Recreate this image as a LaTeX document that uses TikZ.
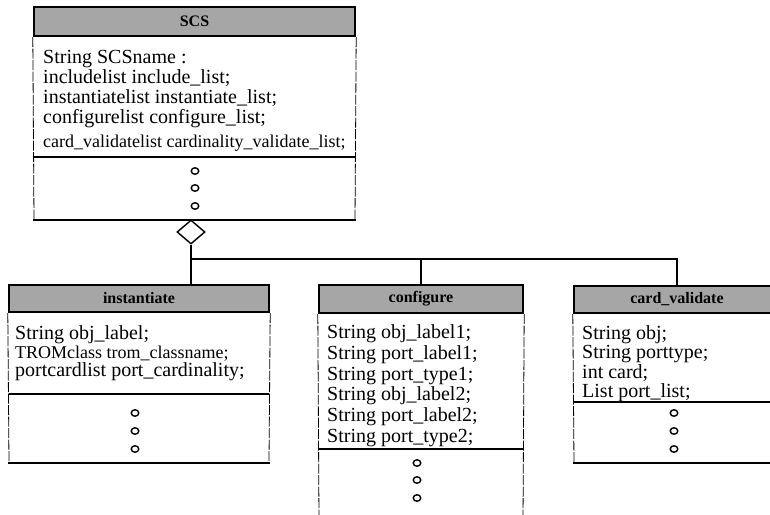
\documentclass[tikz,border=0pt]{standalone}
\usepackage{fontspec}
\setmainfont{Liberation Serif}
\usetikzlibrary{calc, shapes.geometric}

\begin{document}
\begin{tikzpicture}[x=1pt, y=-1pt,
    titleBar/.style={draw=borderColour, fill=fillColour, line width=2.4pt, inner sep=0pt, font=\fontsize{16}{16}\selectfont\bfseries},
    attrLine/.style={anchor=base west, inner sep=0pt, font=\fontsize{20}{20}\selectfont},
    smallLine/.style={attrLine, font=\fontsize{18}{18}\selectfont},
    dot/.style={draw=borderColour, line width=1.4pt, ellipse, minimum width=7.5pt, minimum height=6.5pt, inner sep=0pt},
    sepLine/.style={line width=1.4pt},
    sideLine/.style={line width=0.8pt, dash pattern=on 10pt off 1.5pt},
    link/.style={line width=1.2pt}]

    \definecolor{borderColour}{HTML}{000000}
    \definecolor{fillColour}{HTML}{A6A6A6}

    % Page size of the reference
    \useasboundingbox (0,0) rectangle (770,514);
    \clip (0,0) rectangle (770,514);

    % Draw the SCS class
    \node[titleBar, minimum width=321pt, minimum height=29pt] (scsTitle) at (194.5,21.5) {SCS};
    \draw[sideLine] (scsTitle.south west) -- (34,220) (scsTitle.south east) -- (355,220);
    \draw[sepLine] (34,157) -- (355,157) (33.3,220) -- (355.7,220);
    \foreach \txt [count=\i from 0] in {String SCSname :, includelist include\_list;,
        instantiatelist instantiate\_list;, configurelist configure\_list;}
        \node[attrLine] (scsAttr\i) at (43,63.5+20*\i) {\txt};
    \node[smallLine] (scsAttr4) at (43,147) {card\_validatelist cardinality\_validate\_list;};
    \foreach \y [count=\i] in {171,188,206}
        \node[dot] (scsDot\i) at (195,\y) {};

    % Draw the aggregation diamond
    \node[diamond, draw=borderColour, line width=1.4pt, aspect=1.17, minimum width=28pt,
        minimum height=24pt, inner sep=0pt, fill=white] (agg) at (191,232) {};

    % Draw the instantiate class
    \node[titleBar, minimum width=260pt, minimum height=27pt] (instTitle) at (139,298.5) {instantiate};
    \draw[sideLine] (instTitle.south west) -- (9,463) (instTitle.south east) -- (269,463);
    \draw[sepLine] (9,394) -- (269,394) (8.3,463) -- (269.7,463);
    \node[attrLine] (instAttr1) at (15,339) {String obj\_label;};
    \node[smallLine] (instAttr2) at (15,358) {TROMclass trom\_classname;};
    \node[attrLine] (instAttr3) at (15,376) {portcardlist port\_cardinality;};
    \foreach \y [count=\i] in {413,431,449}
        \node[dot] (instDot\i) at (135,\y) {};

    % Draw the configure class
    \node[titleBar, minimum width=204pt, minimum height=28pt] (cfgTitle) at (421,299) {configure};
    \draw[sideLine] (cfgTitle.south west) -- (319,520) (cfgTitle.south east) -- (523,520);
    \draw[sepLine] (319,449) -- (523,449);
    \foreach \txt [count=\i from 0] in {String obj\_label1;, String port\_label1;, String port\_type1;,
        String obj\_label2;, String port\_label2;, String port\_type2;}
        \node[attrLine] (cfgAttr\i) at (327,338.5+20.8*\i) {\txt};
    \foreach \y [count=\i] in {463,480,498}
        \node[dot] (cfgDot\i) at (417,\y) {};

    % Draw the card_validate class
    \node[titleBar, minimum width=206pt, minimum height=27pt] (cvTitle) at (677,299.5) {card\_validate};
    \draw[sideLine] (cvTitle.south west) -- (574,463) (cvTitle.south east) -- (780,463);
    \draw[sepLine] (574,402) -- (780,402) (573.3,463) -- (780,463);
    \foreach \txt [count=\i from 0] in {String obj;, String porttype;, int card;, List port\_list;}
        \node[attrLine] (cvAttr\i) at (582,339+19.5*\i) {\txt};
    \foreach \y [count=\i] in {413,431,449}
        \node[dot] (cvDot\i) at (674,\y) {};

    % Draw the connectors
    \coordinate (bus) at (191,259);
    \draw[link] (agg.south) -- (agg.south |- instTitle.north);
    \draw[link] (bus) -- (bus -| cvTitle.north) -- (cvTitle.north);
    \draw[link] (bus -| cfgTitle.north) -- (cfgTitle.north);

\end{tikzpicture}
\end{document}
